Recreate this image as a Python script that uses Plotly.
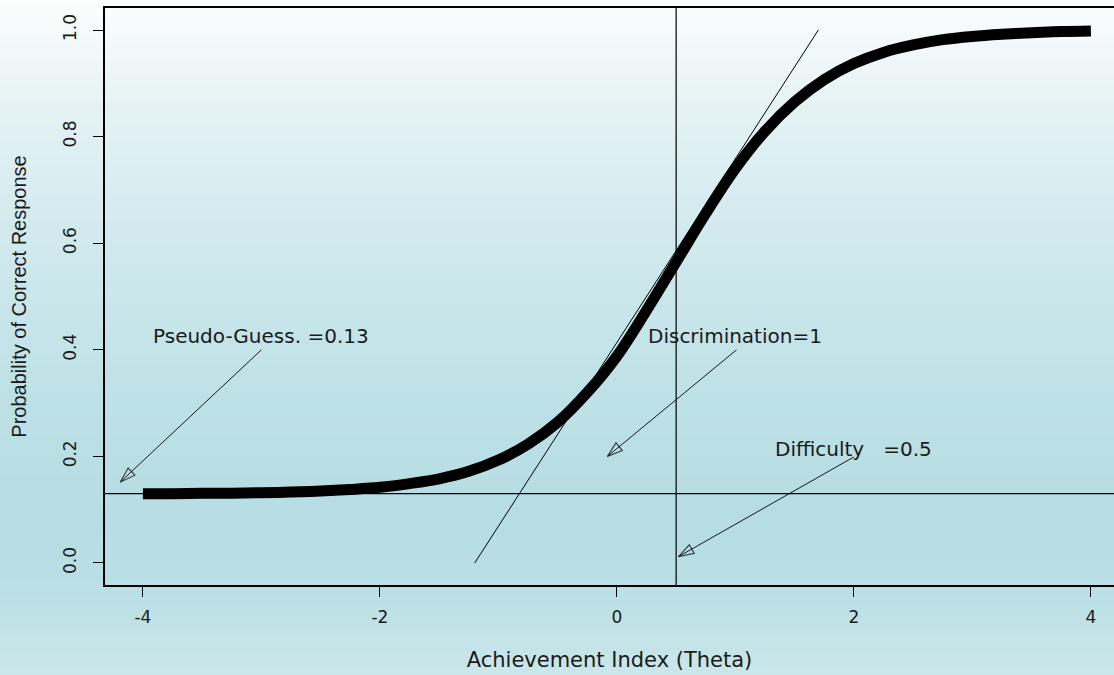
import plotly.graph_objects as go

# ---- data ----
theta = [-4.0, -3.75, -3.5, -3.25, -3.0, -2.75, -2.5, -2.25, -2.0, -1.75, -1.5,
         -1.25, -1.0, -0.75, -0.5, -0.25, 0.0, 0.25, 0.5, 0.75, 1.0, 1.25, 1.5,
         1.75, 2.0, 2.25, 2.5, 2.75, 3.0, 3.25, 3.5, 3.75, 4.0]
prob = [0.130, 0.130, 0.131, 0.131, 0.132, 0.133, 0.135, 0.138, 0.142, 0.149, 0.158,
        0.172, 0.193, 0.223, 0.264, 0.320, 0.388, 0.474, 0.565, 0.656, 0.740, 0.810, 0.865,
        0.907, 0.937, 0.958, 0.972, 0.982, 0.988, 0.992, 0.995, 0.997, 0.998]

tangent_x = [-1.20, 1.70]
tangent_y = [0.0, 1.0]

guess_c = 0.13
difficulty_b = 0.5

labels = ["Pseudo-Guess. =0.13", "Discrimination=1", "Difficulty\u00a0\u00a0\u00a0=0.5"]
label_x = [-3.0, 1.0, 2.0]
label_y = [0.425, 0.425, 0.214]
arrow_tail_x = [-3.0, 1.01, 2.0]
arrow_tail_y = [0.40, 0.40, 0.199]
arrow_tip_x = [-4.19, -0.08, 0.52]
arrow_tip_y = [0.152, 0.20, 0.012]

x_ticks = [-4, -2, 0, 2, 4]
y_ticks = [0.0, 0.2, 0.4, 0.6, 0.8, 1.0]
y_ticktext = ["0.0", "0.2", "0.4", "0.6", "0.8", "1.0"]

# ---- layout geometry ----
W, H = 1114, 675
ML, MR, MT, MB = 105, 0, 8, 90
PW, PH = W - ML - MR, H - MT - MB

fig = go.Figure()

# gradient background built from horizontal bands (paper coords)
stops = [(0, (252, 253, 253)), (100, (230, 243, 245)), (250, (207, 233, 237)),
         (400, (189, 225, 230)), (520, (181, 221, 227)), (600, (187, 224, 229)),
         (675, (203, 231, 235))]

def col_at(py):
    for (p0, c0), (p1, c1) in zip(stops[:-1], stops[1:]):
        if p0 <= py <= p1:
            t = (py - p0) / (p1 - p0)
            return tuple(round(a + (b - a) * t) for a, b in zip(c0, c1))
    return stops[-1][1]

band = 5
shapes = []
for py in range(0, H, band):
    c = col_at(py + band / 2)
    y_top = (H - MB - py) / PH
    y_bot = (H - MB - py - band - 1) / PH
    shapes.append(dict(type="rect", xref="paper", yref="paper",
                       x0=-ML / PW - 0.01, x1=1.01, y0=y_bot, y1=y_top,
                       fillcolor="rgb(%d,%d,%d)" % c, line=dict(width=0),
                       layer="below"))

# reference lines
shapes.append(dict(type="line", xref="x", yref="paper", x0=difficulty_b, x1=difficulty_b,
                   y0=0, y1=1, line=dict(color="black", width=1.2)))
shapes.append(dict(type="line", xref="paper", yref="y", x0=0, x1=1, y0=guess_c, y1=guess_c,
                   line=dict(color="black", width=1.2)))

# tangent line
fig.add_trace(go.Scatter(x=tangent_x, y=tangent_y, mode="lines",
                         line=dict(color="black", width=1), hoverinfo="skip"))

# item characteristic curve
fig.add_trace(go.Scatter(x=theta, y=prob, mode="lines",
                         line=dict(color="black", width=11, shape="spline"),
                         hoverinfo="skip"))

# arrows
for tx, ty, hx, hy in zip(arrow_tail_x, arrow_tail_y, arrow_tip_x, arrow_tip_y):
    fig.add_trace(go.Scatter(x=[tx, hx], y=[ty, hy], mode="lines+markers",
                             line=dict(color="black", width=0.9),
                             marker=dict(symbol="arrow-open", size=[0, 16],
                                         angleref="previous",
                                         color="black", line=dict(color="black", width=1.2)),
                             hoverinfo="skip"))

annotations = []
for t, x, y in zip(labels, label_x, label_y):
    annotations.append(dict(x=x, y=y, xref="x", yref="y", text=t, showarrow=False,
                            font=dict(family="DejaVu Sans", size=20, color="#1a1a1a"),
                            xanchor="center", yanchor="middle"))

fig.update_layout(
    width=W, height=H,
    margin=dict(l=ML, r=MR, t=MT, b=MB, pad=0),
    paper_bgcolor="rgb(200,230,234)",
    plot_bgcolor="rgba(0,0,0,0)",
    showlegend=False,
    shapes=shapes,
    annotations=annotations,
    xaxis=dict(range=[-4.32, 4.195], tickvals=x_ticks, ticktext=[str(v) for v in x_ticks],
               showgrid=False, zeroline=False, showline=True, linecolor="black",
               linewidth=1.5, mirror=True, ticks="outside", ticklen=10, tickwidth=1.2,
               tickcolor="black", ticklabelstandoff=6,
               tickfont=dict(family="DejaVu Sans", size=17, color="#1a1a1a"),
               title=dict(text="Achievement Index (Theta)", standoff=26,
                          font=dict(family="DejaVu Sans", size=21, color="#1a1a1a"))),
    yaxis=dict(range=[-0.0413, 1.0413], tickvals=y_ticks, ticktext=y_ticktext,
               showgrid=False, zeroline=False, showline=True, linecolor="black",
               linewidth=1.5, mirror=False, ticks="outside", ticklen=10, tickwidth=1.2,
               tickcolor="black", tickangle=-90, ticklabelstandoff=10,
               tickfont=dict(family="DejaVu Sans", size=17, color="#1a1a1a"),
               title=dict(text="Probability of Correct Response", standoff=28,
                          font=dict(family="Liberation Sans", size=20, color="#1a1a1a"))),
)

fig.write_html("out.html", config={"displayModeBar": False},
               post_script="document.body.style.margin='0';document.body.style.overflow='hidden';")
